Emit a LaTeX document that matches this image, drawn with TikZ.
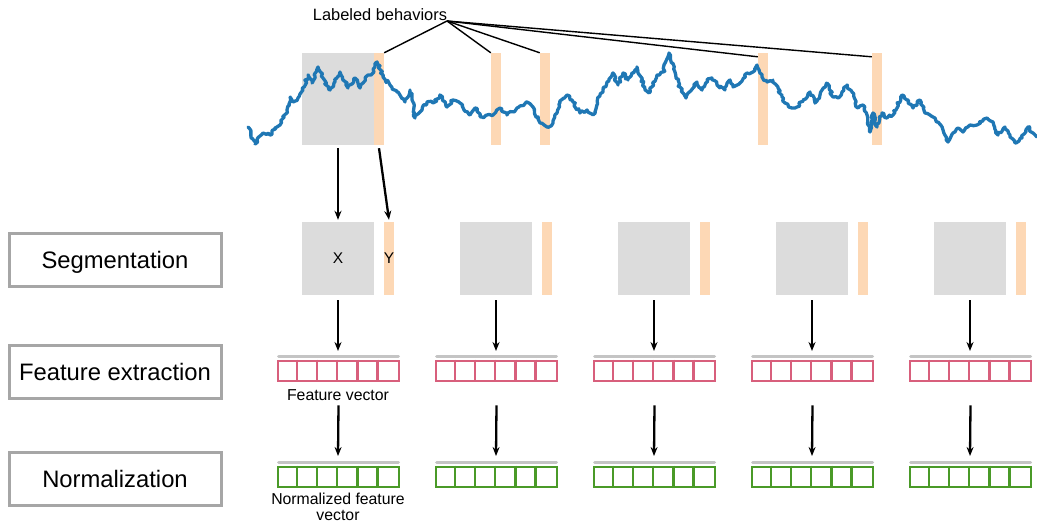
\documentclass[tikz,border=0pt]{standalone}
\usepackage{fontspec}
\setmainfont{Liberation Sans}
\usetikzlibrary{arrows.meta,decorations.pathmorphing}
\definecolor{segGrey}{HTML}{DCDCDC}
\definecolor{peach}{HTML}{FDD8B5}
\definecolor{waveBlue}{HTML}{1F77B4}
\definecolor{fvPink}{HTML}{D85F7C}
\definecolor{nvGreen}{HTML}{4A9A28}
\definecolor{boxGrey}{HTML}{A6A6A6}
\definecolor{barLine}{HTML}{C4C4C4}
\tikzset{
  seg/.style={fill=segGrey, draw=none, minimum width=72pt, minimum height=73pt, inner sep=0pt, font=\fontsize{15.5}{18}\selectfont},
  peachbar/.style={fill=peach, draw=none, minimum width=10pt, minimum height=73pt, inner sep=0pt, font=\fontsize{15.5}{18}\selectfont},
  topseg/.style={fill=segGrey, draw=none, minimum width=72pt, minimum height=92pt, inner sep=0pt},
  topbar/.style={fill=peach, draw=none, minimum width=10pt, minimum height=92pt, inner sep=0pt},
  vec/.style={draw=#1, line width=2.6pt, fill=white, minimum width=121pt, minimum height=20pt, inner sep=0pt},
  cellline/.style={line width=2.4pt},
  stage/.style={draw=boxGrey, line width=3pt, minimum width=212pt, minimum height=53pt, inner sep=0pt, text depth=0pt, font=\fontsize{23.8}{27}\selectfont},
  arr/.style={-{Stealth[length=9pt,width=7pt]}, line width=2.3pt, black},
  ann/.style={line width=1.4pt, black},
  small/.style={font=\fontsize{16.4}{18}\selectfont, align=center},
  captext/.style={font=\fontsize{15.8}{16.5}\selectfont, align=center},
}
\begin{document}
\begin{tikzpicture}[x=1pt,y=-1pt]
\useasboundingbox (0,0) rectangle (1037,525);

% stage boxes
\node[stage] (s1) at (115,259.5) {Segmentation};
\node[stage] (s2) at (115,371.5) {Feature extraction};
\node[stage] (s3) at (115,478.5) {Normalization};

% top signal regions
\node[topseg] (tg) at (338,99) {};
\node[topbar] (tb0) at (379,99) {};
\node[topbar] (tb1) at (496,99) {};
\node[topbar] (tb2) at (545,99) {};
\node[topbar] (tb3) at (763,99) {};
\node[topbar] (tb4) at (877,99) {};

% waveform
\pgfmathsetseed{12}
\draw[waveBlue, line width=3.3pt, line join=round, line cap=round,
      decorate, decoration={random steps, segment length=2.4pt, amplitude=1.5pt}]
 (248,127) -- (255,144) -- (263,133) -- (270,135) -- (275,128) -- (280,125) -- (287,110) -- (290,97) -- (293,102) -- (298,98)
 -- (303,90) -- (308,75) -- (312,83) -- (318,67) -- (323,78) -- (330,90) -- (335,82) -- (340,72) -- (348,88) -- (355,78)
 -- (360,88) -- (368,75) -- (373,73) -- (377,62) -- (383,77) -- (390,85) -- (397,92) -- (405,102) -- (410,90) -- (415,118)
 -- (422,110) -- (427,102) -- (433,103) -- (440,95) -- (447,107) -- (453,100) -- (460,103) -- (470,115) -- (475,108) -- (482,117)
 -- (493,115) -- (500,108) -- (507,115) -- (517,108) -- (527,102) -- (533,107) -- (540,123) -- (547,127) -- (553,123) -- (560,103)
 -- (567,95) -- (573,102) -- (580,113) -- (587,110) -- (593,115) -- (600,95) -- (607,82) -- (613,73) -- (618,85) -- (623,73)
 -- (628,80) -- (635,70) -- (637,67) -- (645,90) -- (649,93) -- (657,75) -- (663,72) -- (669,53) -- (675,72) -- (680,87)
 -- (686,98) -- (697,82) -- (702,90) -- (707,80) -- (712,78) -- (717,85) -- (725,90) -- (730,80) -- (733,87) -- (740,83)
 -- (747,73) -- (753,72) -- (757,65) -- (762,77) -- (767,82) -- (773,80) -- (778,88) -- (785,103) -- (792,108) -- (797,107)
 -- (803,100) -- (810,92) -- (815,103) -- (820,95) -- (827,83) -- (833,97) -- (838,98) -- (847,85) -- (852,92) -- (858,108)
 -- (863,105) -- (870,132) -- (873,113) -- (877,127) -- (882,113) -- (887,118) -- (893,115) -- (902,95) -- (907,100) -- (913,108)
 -- (920,100) -- (925,113) -- (930,115) -- (935,118) -- (943,130) -- (948,142) -- (953,133) -- (958,128) -- (963,132) -- (970,125)
 -- (977,125) -- (987,118) -- (993,122) -- (998,135) -- (1005,127) -- (1010,135) -- (1015,143) -- (1022,138) -- (1028,127) -- (1033,133) -- (1037,137);

% labeled behaviors
\node[small] (lbl) at (380,15) {Labeled behaviors};
\coordinate (lbp) at (447,21);
\draw[ann] (lbp) -- (tb0.north east);
\draw[ann] (lbp) -- (tb1.north west);
\draw[ann] (lbp) -- (tb2.north west);
\draw[ann] (lbp) -- ([yshift=-4pt]tb3.north west);
\draw[ann] (lbp) -- ([yshift=-4pt]tb4.north west);

% columns
\foreach \i in {0,...,4}{
  \pgfmathsetmacro{\cx}{338+158*\i}
  \pgfmathsetmacro{\bx}{389+158*\i}
  \pgfmathsetmacro{\vx}{338.5+158*\i}
  \node[seg] (g\i) at (\cx,258.5) {};
  \node[peachbar] (b\i) at (\bx,258.5) {};
  % feature vector
  \draw[barLine, line width=3pt, line cap=round] (\vx-60,356) -- (\vx+60,356);
  \node[vec=fvPink] (f\i) at (\vx,371) {};
  \foreach \k in {1,...,5}{
    \draw[fvPink, cellline] ([xshift=\k*20.17pt]f\i.north west) -- ([xshift=\k*20.17pt]f\i.south west);
  }
  % normalized vector
  \draw[barLine, line width=3pt, line cap=round] (\vx-60,462) -- (\vx+60,462);
  \node[vec=nvGreen] (n\i) at (\vx,477) {};
  \foreach \k in {1,...,5}{
    \draw[nvGreen, cellline] ([xshift=\k*20.17pt]n\i.north west) -- ([xshift=\k*20.17pt]n\i.south west);
  }
  \coordinate (fa\i) at (\cx,351);
  \coordinate (na\i) at (\cx,456);
  \draw[arr] ([yshift=-5pt]g\i.south) -- (fa\i);
  \draw[arr] ([yshift=-23pt]f\i.south) -- (na\i);
}
\node[small, font=\fontsize{15.5}{18}\selectfont] (xl) at (g0) {X};
\node[small, font=\fontsize{15.5}{18}\selectfont] (yl) at (b0) {Y};

% arrows from top
\draw[arr] ([yshift=-3pt]tg.south) -- ([yshift=2pt]g0.north);
\draw[arr] ([yshift=-3pt]tb0.south) -- ([yshift=2pt]b0.north);

% captions
\node[captext] (fvl) at (338,395) {Feature vector};
\node[captext] (nvl) at (338,507) {Normalized feature\\vector};
\end{tikzpicture}
\end{document}
